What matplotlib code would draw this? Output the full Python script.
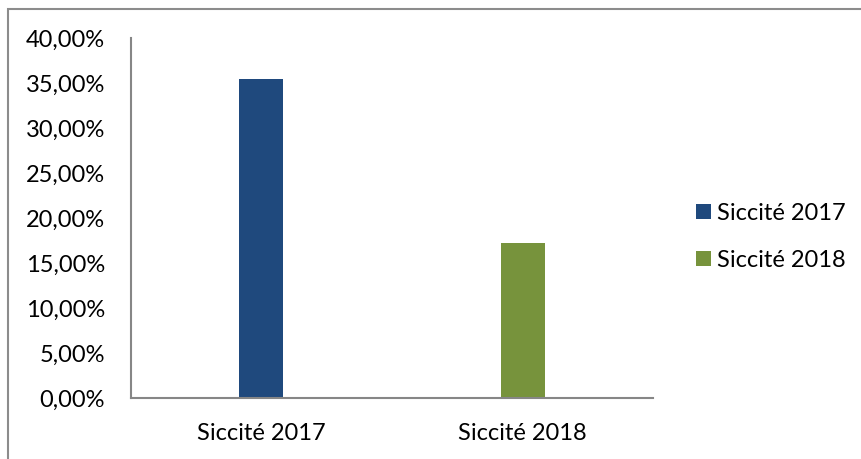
import matplotlib.pyplot as plt
from matplotlib.patches import Rectangle
from matplotlib.ticker import FuncFormatter

plt.rcParams['font.family'] = ['Lato', 'DejaVu Sans']

categories = ['Siccité 2017', 'Siccité 2018']
series = ['Siccité 2017', 'Siccité 2018']
values = [0.3545, 0.1722]
colors = ['#1f497d', '#77933c']

fig = plt.figure(figsize=(8.62, 4.59), dpi=100)
ax = fig.add_axes([0.1514, 0.1329, 0.6067, 0.7843])

for i, (name, v) in enumerate(zip(series, values)):
    ax.bar(i, v, width=0.168, color=colors[i], label=name)

ax.set_xlim(-0.5, 1.5)
ax.set_ylim(0, 0.40)
ax.set_yticks([i * 0.05 for i in range(9)])
ax.yaxis.set_major_formatter(FuncFormatter(lambda y, p: f'{y*100:.2f}%'.replace('.', ',')))
ax.set_xticks(range(len(categories)))
ax.set_xticklabels(categories)
ax.tick_params(length=0, labelsize=17, colors='black')
ax.tick_params(axis='y', pad=18.5)
ax.tick_params(axis='x', pad=18)

for s in ['top', 'right']:
    ax.spines[s].set_visible(False)
for s in ['left', 'bottom']:
    ax.spines[s].set_color('#868686')
    ax.spines[s].set_linewidth(1.5)

ax.legend(loc='center left', bbox_to_anchor=(0.7826, 0.4837), bbox_transform=fig.transFigure,
          frameon=False, fontsize=17, handlelength=0.64, handleheight=0.64,
          handletextpad=0.25, labelspacing=1.1)

# chart area border
fig.patches.append(Rectangle((8.5 / 862, -0.1), 1.2, 1.1 - 8.5 / 459,
                             transform=fig.transFigure, fill=False,
                             edgecolor='#8c8c8c', linewidth=1.5))

fig.savefig('out.png', dpi=100)
